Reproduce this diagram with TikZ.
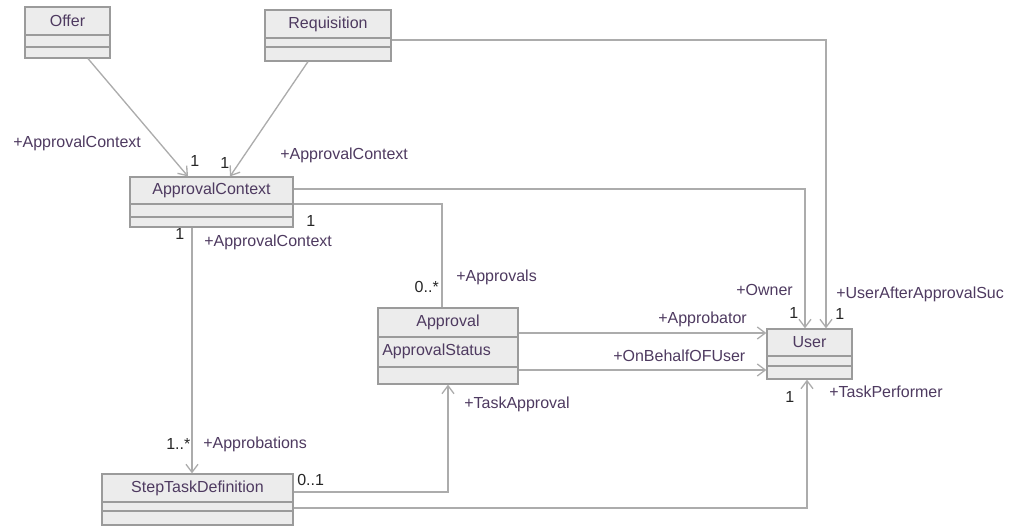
\documentclass[tikz,border=0pt]{standalone}
\usepackage{fontspec}
\setmainfont{Liberation Sans}
\usepackage{tikz}
\usepackage{xcolor}
\usetikzlibrary{arrows.meta,fit}

\definecolor{lineGray}{RGB}{172,172,172}
\definecolor{boxFill}{RGB}{236,236,236}
\definecolor{boxLine}{RGB}{155,155,155}
\definecolor{roleText}{RGB}{78,58,96}

\tikzset{
  classbox/.style={draw=boxLine, fill=boxFill, line width=0.9pt, inner sep=0pt},
  sep/.style={draw=boxLine, line width=0.8pt},
  ctitle/.style={inner sep=0.75pt, text=roleText, font=\fontsize{12}{14}\selectfont},
  lbl/.style={inner sep=0.75pt, anchor=west, text=roleText, font=\fontsize{12}{14}\selectfont},
  mult/.style={inner sep=0.75pt, anchor=west, text=black!85, font=\fontsize{12}{14}\selectfont},
  assoc/.style={draw=lineGray, line width=1pt},
  nav/.style={assoc, -{Straight Barb[length=6pt,width=9pt]}}
}

\begin{document}
\begin{tikzpicture}[x=0.75pt,y=0.75pt,yscale=-1,xscale=1]
        \useasboundingbox (0,0) rectangle (1015,527);

        %Shape: Class Offer
        \node [classbox, fit={(25,7) (110,58)}] (offer) {};
        \draw [sep] (offer.west |- 0,35) -- (offer.east |- 0,35) ;
        \draw [sep] (offer.west |- 0,47) -- (offer.east |- 0,47) ;
        \draw (67.5,21) node [ctitle] (offerT) {Offer};
        %Shape: Class Requisition
        \node [classbox, fit={(265,10) (391,61)}] (req) {};
        \draw [sep] (req.west |- 0,38) -- (req.east |- 0,38) ;
        \draw [sep] (req.west |- 0,47) -- (req.east |- 0,47) ;
        \draw (328,24) node [ctitle] (reqT) {Requisition};
        %Shape: Class ApprovalContext
        \node [classbox, fit={(130,177) (293,227)}] (ac) {};
        \draw [sep] (ac.west |- 0,204) -- (ac.east |- 0,204) ;
        \draw [sep] (ac.west |- 0,217) -- (ac.east |- 0,217) ;
        \draw (211.5,190.5) node [ctitle] (acT) {ApprovalContext};
        %Shape: Class Approval
        \node [classbox, fit={(378,308) (518,384)}] (appr) {};
        \draw [sep] (appr.west |- 0,337) -- (appr.east |- 0,337) ;
        \draw [sep] (appr.west |- 0,367) -- (appr.east |- 0,367) ;
        \draw (448,322.5) node [ctitle] (apprT) {Approval};
        \draw (381,351) node [ctitle, anchor=west] (apprA) {ApprovalStatus};
        %Shape: Class StepTaskDefinition
        \node [classbox, fit={(102,474) (293,525)}] (std) {};
        \draw [sep] (std.west |- 0,502) -- (std.east |- 0,502) ;
        \draw [sep] (std.west |- 0,511) -- (std.east |- 0,511) ;
        \draw (197.5,488) node [ctitle] (stdT) {StepTaskDefinition};
        %Shape: Class User
        \node [classbox, fit={(767,329) (852,379)}] (user) {};
        \draw [sep] (user.west |- 0,356) -- (user.east |- 0,356) ;
        \draw [sep] (user.west |- 0,366) -- (user.east |- 0,366) ;
        \draw (809.5,342.5) node [ctitle] (userT) {User};

        %Straight Lines
        \draw [nav] (offer.south -| 88,0) -- (ac.north -| 188,0) ;
        \draw [nav] (req.south -| 308,0) -- (ac.north -| 230,0) ;
        \draw [nav] (req.east |- 0,40) -| (user.north -| 826,0) ;
        \draw [nav] (ac.east |- 0,189) -| (user.north -| 805,0) ;
        \draw [assoc] (ac.east |- 0,204) -| (appr.north -| 442,0) ;
        \draw [nav] (ac.south -| 192,0) -- (std.north -| 192,0) ;
        \draw [nav] (std.east |- 0,492) -| (appr.south -| 448,0) ;
        \draw [nav] (std.east |- 0,508) -| (user.south -| 807,0) ;
        \draw [nav] (appr.east |- 0,333) -- (user.west |- 0,333) ;
        \draw [nav] (appr.east |- 0,370) -- (user.west |- 0,370) ;

        % Text Node
        \draw (12,143) node [lbl] (rOfferAC) {+ApprovalContext};
        \draw (189,161) node [mult] (mOfferAC) {1};
        \draw (219,163) node [mult] (mReqAC) {1};
        \draw (279,155) node [lbl] (rReqAC) {+ApprovalContext};
        \draw (305,221) node [mult] (mAcAppr) {1};
        \draw (174,234) node [mult] (mAcStd) {1};
        \draw (203,242) node [lbl] (rAcStd) {+ApprovalContext};
        \draw (440,287) node [mult, anchor=east] (mApprs) {0..*};
        \draw (455,277) node [lbl] (rApprs) {+Approvals};
        \draw (735,290) node [lbl] (rOwner) {+Owner};
        \draw (788,313) node [mult] (mOwner) {1};
        \draw (835,294) node [lbl] (rAfter) {+UserAfterApprovalSuc};
        \draw (834,314) node [mult] (mAfter) {1};
        \draw (657,319) node [lbl] (rApprob) {+Approbator};
        \draw (612,356) node [lbl] (rBehalf) {+OnBehalfOFUser};
        \draw (463,404) node [lbl] (rTaskAppr) {+TaskApproval};
        \draw (784,397) node [mult] (mPerf) {1};
        \draw (828,392) node [lbl] (rPerf) {+TaskPerformer};
        \draw (165,444) node [mult] (mApprobs) {1..*};
        \draw (202,444) node [lbl] (rApprobs) {+Approbations};
        \draw (296,480) node [mult] (mTaskAppr) {0..1};

\end{tikzpicture}
\end{document}
